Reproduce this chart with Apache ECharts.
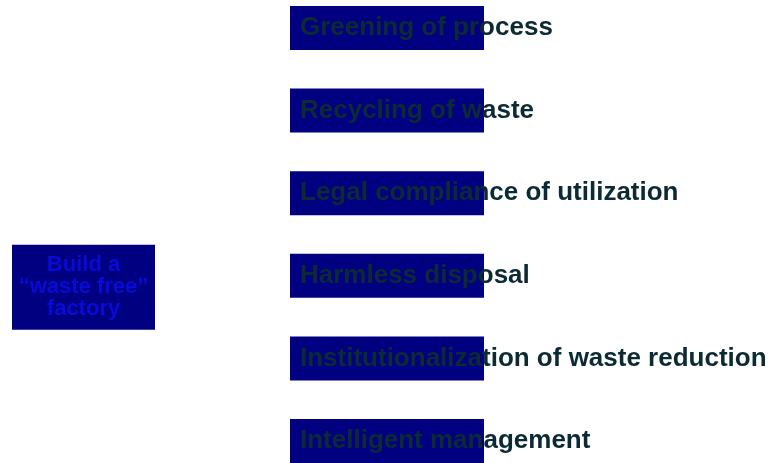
<!DOCTYPE html>
<html>
<head>
<meta charset="utf-8">
<script src="https://cdn.jsdelivr.net/npm/echarts@6/dist/echarts.min.js"></script>
<style>html,body{margin:0;padding:0;background:#fff;}#c{width:778px;height:463px;}</style>
</head>
<body>
<div id="c"></div>
<script>
// data
var rootLabel = 'Build a\n\u201cwaste free\u201d\nfactory';
var rootLevel = 0;
var rootRow = 3.14;
var childLabels = [
  'Greening of process',
  'Recycling of waste',
  'Legal compliance of utilization',
  'Harmless disposal',
  'Institutionalization of waste reduction',
  'Intelligent management'
];
var childLevel = 1;
var childRows = [0, 1, 2, 3, 4, 5];

var FONT = '"Liberation Sans", Arial, Helvetica, sans-serif';
var chart = echarts.init(document.getElementById('c'), null, {renderer: 'canvas'});

var points = [];
points.push({
  value: [rootLevel, rootRow],
  symbolSize: [143, 85],
  label: {
    show: true,
    formatter: rootLabel,
    position: 'inside',
    align: 'center',
    color: '#0a0ad8',
    fontSize: 22,
    fontWeight: 'bold',
    lineHeight: 22,
    fontFamily: FONT
  }
});
childLabels.forEach(function (name, i) {
  points.push({
    value: [childLevel, childRows[i]],
    symbolSize: [194, 44],
    label: {
      show: true,
      formatter: name,
      position: 'insideLeft',
      distance: 10,
      color: '#0c2a33',
      fontSize: 26,
      fontWeight: 'bold',
      fontFamily: FONT
    }
  });
});

chart.setOption({
  animation: false,
  backgroundColor: '#ffffff',
  grid: {left: 83.5, width: 303.5, top: 28, height: 413, containLabel: false},
  xAxis: {type: 'value', min: 0, max: 1, show: false},
  yAxis: {type: 'value', min: 0, max: 5, inverse: true, show: false},
  series: [{
    type: 'scatter',
    symbol: 'rect',
    itemStyle: {color: '#000080', opacity: 1},
    emphasis: {disabled: true},
    data: points
  }]
});
</script>
</body>
</html>
